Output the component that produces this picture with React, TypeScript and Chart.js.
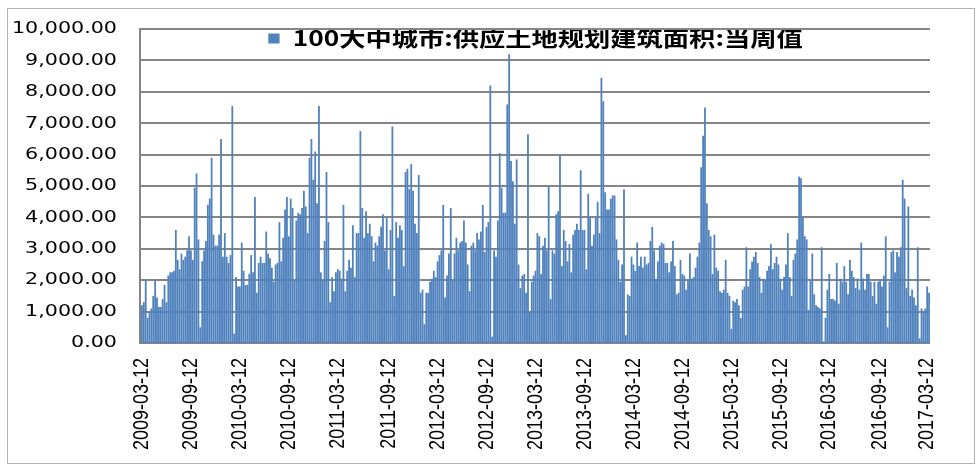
import React, { useEffect, useRef, useState } from 'react';
import { Chart, registerables } from 'chart.js';

Chart.register(...registerables);

// ---------- data ----------
const seriesName = '100大中城市:供应土地规划建筑面积:当周值';
const firstWeek = '2009-03-12';
const xTickLabels = [
  '2009-03-12', '2009-09-12', '2010-03-12', '2010-09-12', '2011-03-12', '2011-09-12',
  '2012-03-12', '2012-09-12', '2013-03-12', '2013-09-12', '2014-03-12', '2014-09-12',
  '2015-03-12', '2015-09-12', '2016-03-12', '2016-09-12', '2017-03-12',
];
const yTickMin = 0;
const yTickMax = 10000;
const yTickStep = 1000;

const weeklyValues = [
  1200, 1300, 2000, 800, 1000, 1100, 1500, 2000, 1450, 1150,
  1150, 1400, 1850, 1300, 2150, 2250, 2250, 2300, 3600, 2650,
  2350, 2850, 2650, 2750, 2950, 3400, 2950, 2650, 4950, 5400,
  3300, 500, 2600, 2950, 3250, 4400, 4600, 5900, 3450, 3100,
  3100, 3450, 6500, 2750, 3500, 2750, 2550, 2800, 7550, 300,
  2100, 1800, 1800, 3200, 2300, 1850, 1850, 2200, 2800, 2250,
  4650, 1600, 2550, 2750, 2550, 2550, 3550, 2850, 2700, 2400,
  1950, 2500, 2550, 3850, 2600, 3350, 4250, 4650, 3400, 4600,
  4300, 2000, 3900, 4150, 4100, 4300, 4850, 4350, 3500, 5900,
  6500, 5200, 6100, 4450, 7550, 2250, 2000, 3250, 5450, 3850,
  1300, 2100, 1650, 2250, 2350, 2300, 2050, 4400, 1650, 2300,
  2650, 2400, 3750, 2100, 3500, 3500, 6750, 4300, 3350, 4200,
  3500, 3800, 3400, 2600, 3200, 3100, 3400, 3700, 4100, 2950,
  4000, 2350, 3600, 6900, 1500, 3850, 3350, 3750, 3600, 2450,
  5450, 5550, 4900, 5700, 4850, 3800, 3500, 5350, 1600, 1700,
  600, 1600, 1600, 1950, 2050, 2300, 2100, 2600, 2800, 2950,
  4400, 1450, 2150, 2850, 4300, 2000, 2850, 3350, 2950, 3200,
  3250, 3900, 3200, 2500, 1650, 3100, 3200, 2950, 3500, 3300,
  3550, 4400, 2900, 3700, 3850, 8200, 200, 2950, 2750, 3900,
  6050, 4950, 4150, 4150, 7600, 9200, 5800, 5150, 3800, 5850,
  2500, 1750, 2150, 2200, 1600, 6650, 1000, 1950, 2150, 2300,
  3500, 3400, 2200, 3100, 3350, 2950, 5000, 1400, 2950, 2850,
  4100, 4200, 6000, 2450, 3600, 3250, 2600, 3150, 2250, 3450,
  3600, 3800, 3600, 5500, 3600, 3600, 2350, 4750, 4000, 3100,
  3450, 4000, 4500, 3500, 8450, 7700, 4800, 4250, 4250, 4600,
  4700, 4700, 3300, 2650, 1950, 2500, 4900, 250, 1550, 1500,
  2750, 2500, 2300, 3200, 2450, 2750, 2400, 2750, 2500, 2550,
  3250, 3700, 2950, 2050, 2600, 3100, 3200, 3150, 2550, 2550,
  2250, 2600, 3250, 2450, 1550, 1600, 2650, 2200, 2150, 1700,
  2000, 2850, 2050, 2100, 2400, 2750, 3200, 5600, 6600, 7500,
  4450, 3600, 3400, 2200, 3450, 2400, 2300, 1650, 1600, 1700,
  2650, 1600, 1500, 450, 1350, 1300, 1400, 1200, 800, 1700,
  1800, 3050, 1800, 2350, 2600, 2750, 2900, 2550, 2100, 1600,
  2050, 2000, 2300, 2450, 3150, 2350, 2550, 2750, 2500, 2050,
  1700, 2100, 2500, 3500, 2100, 1500, 2650, 2850, 3300, 5300,
  5250, 4000, 3400, 3300, 1050, 2000, 2850, 1550, 1200, 1150,
  1100, 3050, 50, 800, 1700, 2200, 1400, 1400, 1350, 2550,
  1250, 2050, 1950, 2450, 1950, 1550, 2650, 2300, 2100, 1750,
  2050, 1700, 3200, 2050, 1700, 2200, 2200, 1950, 1500, 1950,
  1250, 1950, 2000, 1800, 2150, 3400, 500, 1950, 2900, 2950,
  2250, 2900, 2750, 3050, 5200, 4600, 1750, 4350, 1500, 1700,
  1450, 1200, 3050, 150, 1100, 1000, 1100, 1800, 1600,
];

// ---------- derived tables ----------
const DAY_MS = 86400000;
const t0 = Date.parse(firstWeek + 'T00:00:00Z');
const weekLabels = weeklyValues.map((_, i) =>
  new Date(t0 + i * 7 * DAY_MS).toISOString().slice(0, 10)
);
const tickIndexToLabel = new Map<number, string>();
xTickLabels.forEach((lbl) => {
  const idx = Math.round((Date.parse(lbl + 'T00:00:00Z') - t0) / (7 * DAY_MS));
  tickIndexToLabel.set(idx, lbl);
});
const yGridValues: number[] = [];
for (let v = yTickMin; v <= yTickMax; v += yTickStep) yGridValues.push(v);

// ---------- geometry (drawing is stretched horizontally, like the reference) ----------
const DEVICE_W = 978;
const H = 469;
const LOGICAL_W = 782;
const SX = DEVICE_W / LOGICAL_W;
const PLOT_LEFT = 141 / SX;
const PLOT_RIGHT = 930 / SX;
const PLOT_TOP = 25;
const PLOT_BOTTOM = 343;
const LEGEND_FONT = 21;
const LEGEND_PAD = 4;
const LEGEND_H = LEGEND_FONT * 1.2 + LEGEND_PAD + 10;
const GRID_COLOR = '#858585';

type GridGeom = { left: number; right: number; top: number; bottom: number; ys: number[] };

const stretchPlugin = {
  id: 'stretchX',
  beforeRender(chart: any) {
    const c = chart.canvas as HTMLCanvasElement;
    if (c.width !== DEVICE_W) c.width = DEVICE_W;
    if (c.height !== H) c.height = H;
    (chart.ctx as CanvasRenderingContext2D).setTransform(SX, 0, 0, 1, 0, 0);
  },
  beforeDraw(chart: any) {
    (chart.ctx as CanvasRenderingContext2D).setTransform(SX, 0, 0, 1, 0, 0);
  },
  afterLayout(chart: any) {
    const lg = chart.legend;
    if (lg) {
      const dy = PLOT_TOP - 1 - lg.top;
      lg.top += dy;
      lg.bottom += dy;
    }
  },
  beforeDatasetsDraw(chart: any) {
    const ctx = chart.ctx as CanvasRenderingContext2D;
    const y = chart.scales.y;
    const x = chart.scales.x;
    const l = Math.round(x.left * SX);
    const r = Math.round(x.right * SX);
    ctx.save();
    ctx.setTransform(1, 0, 0, 1, 0, 0);
    ctx.fillStyle = GRID_COLOR;
    yGridValues.forEach((v) => {
      const py = Math.round(y.getPixelForValue(v));
      ctx.fillRect(l, py - 1, r - l, 2);
    });
    ctx.restore();
  },
  afterDraw(chart: any) {
    const ctx = chart.ctx as CanvasRenderingContext2D;
    const y = chart.scales.y;
    const x = chart.scales.x;
    const l = Math.round(x.left * SX);
    const top = Math.round(y.top);
    const bottom = Math.round(y.bottom);
    ctx.save();
    ctx.setTransform(1, 0, 0, 1, 0, 0);
    ctx.fillStyle = GRID_COLOR;
    ctx.fillRect(l - 2, top - 1, 2, bottom - top + 2);
    ctx.fillStyle = '#b4b4b4';
    ctx.fillRect(7, 8, 968, 1);
    ctx.fillRect(7, 463, 968, 1);
    ctx.fillRect(7, 8, 1, 456);
    ctx.fillRect(974, 8, 1, 456);
    ctx.restore();
  },
};

export default function App() {
  const ref = useRef<HTMLCanvasElement | null>(null);
  const [grid, setGrid] = useState<GridGeom | null>(null);

  useEffect(() => {
    document.body.style.margin = '0';
    const canvas = ref.current!;
    canvas.width = LOGICAL_W;
    canvas.height = H;

    const chart = new Chart(canvas, {
      type: 'bar',
      data: {
        labels: weekLabels,
        datasets: [
          {
            label: seriesName,
            data: weeklyValues,
            backgroundColor: '#4F81BD',
            borderWidth: 0,
            barPercentage: 0.95,
            categoryPercentage: 1,
          },
        ],
      },
      options: {
        responsive: false,
        devicePixelRatio: 1,
        animation: false,
        events: [],
        layout: {
          padding: { left: 0, right: LOGICAL_W - PLOT_RIGHT, top: PLOT_TOP - LEGEND_H, bottom: 0 },
        },
        scales: {
          x: {
            type: 'category',
            offset: true,
            grid: { display: false, drawTicks: false },
            border: { display: false },
            ticks: {
              autoSkip: false,
              minRotation: 90,
              maxRotation: 90,
              padding: 15,
              color: '#000000',
              font: { family: "'Liberation Sans', Arial, sans-serif", size: 18 },
              callback: (v: any) => tickIndexToLabel.get(Number(v)) ?? null,
            },
            afterBuildTicks: (axis: any) => {
              axis.ticks = Array.from(tickIndexToLabel.keys()).map((v) => ({ value: v }));
            },
            afterFit: (axis: any) => {
              axis.height = H - PLOT_BOTTOM;
            },
          },
          y: {
            min: yTickMin,
            max: yTickMax,
            grid: { display: false, drawTicks: false },
            border: { display: false },
            ticks: {
              stepSize: yTickStep,
              padding: 24 / SX,
              color: '#000000',
              font: { family: "'DejaVu Sans', sans-serif", size: 16.5 },
              callback: (v: any) =>
                Number(v).toLocaleString('en-US', { minimumFractionDigits: 2, maximumFractionDigits: 2 }),
            },
            afterFit: (axis: any) => {
              axis.width = PLOT_LEFT;
            },
          },
        },
        plugins: {
          legend: {
            position: 'top',
            align: 'center',
            fullSize: false,
            labels: {
              boxWidth: 9,
              boxHeight: 10,
              padding: LEGEND_PAD,
              color: '#000000',
              font: { family: "'Noto Sans CJK SC', sans-serif", size: LEGEND_FONT, weight: 'bold' },
            },
          },
          tooltip: { enabled: false },
        },
      } as any,
      plugins: [stretchPlugin],
    });
    chart.render();

    // gridline geometry taken from the chart's own scales, drawn as DOM lines behind the canvas
    const ys = chart.scales.y;
    const xs = chart.scales.x;
    setGrid({
      left: Math.round(xs.left * SX),
      right: Math.round(xs.right * SX),
      top: Math.round(ys.top),
      bottom: Math.round(ys.bottom),
      ys: yGridValues.map((v) => Math.round(ys.getPixelForValue(v))),
    });

    return () => chart.destroy();
  }, []);

  return (
    <div style={{ position: 'relative', width: DEVICE_W, height: H, overflow: 'hidden', background: '#fff' }}>
      {grid &&
        grid.ys.map((py, i) => (
          <div
            key={'g' + i}
            style={{
              position: 'absolute',
              left: grid.left,
              top: py - 1,
              width: grid.right - grid.left,
              height: 2,
              background: GRID_COLOR,
              zIndex: 0,
            }}
          />
        ))}
      {grid && (
        <div
          style={{
            position: 'absolute',
            left: grid.left - 2,
            top: grid.top - 1,
            width: 2,
            height: grid.bottom - grid.top + 2,
            background: GRID_COLOR,
            zIndex: 0,
          }}
        />
      )}
      <canvas
        ref={ref}
        style={{
          position: 'relative',
          zIndex: 1,
          display: 'block',
          width: DEVICE_W + 'px',
          height: H + 'px',
          background: 'transparent',
        }}
      />
    </div>
  );
}
